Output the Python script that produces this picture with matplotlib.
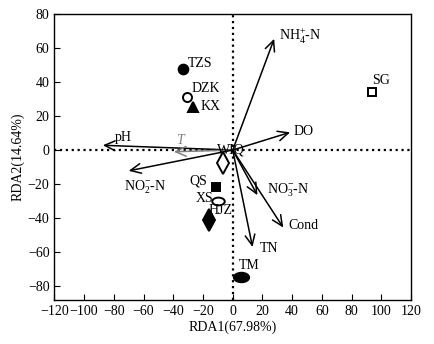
import matplotlib.pyplot as plt
from matplotlib.path import Path
import numpy as np

plt.rcParams['font.family'] = ['Liberation Serif', 'DejaVu Serif']
plt.rcParams['mathtext.fontset'] = 'custom'
plt.rcParams['mathtext.rm'] = 'Liberation Serif'
plt.rcParams['mathtext.it'] = 'Liberation Serif:italic'

# Sample sites (RDA scores)
site_names = ["TZS", "DZK", "KX", "SG", "QS", "XS", "HJZ", "WIQ", "TM"]
site_x = [-33.2, -30.8, -27.0, 94.0, -11.0, -9.9, -16.0, -6.5, 5.4]
site_y = [47.6, 31.2, 25.5, 34.0, -21.6, -29.8, -41.0, -7.5, -74.5]
site_markers = ["o", "o", "^", "s", "s", "ellipse", "d", "d", "ellipse"]
site_filled = [True, False, True, False, True, False, True, False, True]

# Environmental variables (arrow tips)
env_names = ["NH$_4^{+}$-N", "DO", "pH", "$T$", "NO$_2^{-}$-N", "NO$_3^{-}$-N", "Cond", "TN"]
env_x = [27.9, 38.6, -87.4, -39.6, -70.0, 16.6, 34.0, 13.3]
env_y = [65.3, 10.4, 2.8, -1.0, -12.2, -26.5, -45.5, -56.9]

fig, ax = plt.subplots(figsize=(4.35, 3.44), dpi=100)
fig.subplots_adjust(left=0.125, right=0.945, top=0.96, bottom=0.128)

ax.axhline(0, color="black", linestyle=":", lw=1.6, zorder=1)
ax.axvline(0, color="black", linestyle=":", lw=1.6, zorder=1)

# arrows
for name, x, y in zip(env_names, env_x, env_y):
    col = "gray" if name == "$T$" else "black"
    ax.annotate("", xy=(x, y), xytext=(0, 0),
                arrowprops=dict(arrowstyle="->,head_length=0.75,head_width=0.35",
                                color=col, lw=1.1, shrinkA=0, shrinkB=0), zorder=3)

# arrow labels
env_lx = [31, 41, -79, -38, -73, 23, 37.5, 18.4]
env_ly = [66.5, 11, 7.6, 5.9, -22, -23.5, -44, -57.6]
for name, x, y in zip(env_names, env_lx, env_ly):
    col = "gray" if name == "$T$" else "black"
    ax.text(x, y, name, fontsize=10, color=col, va="center", ha="left")

# flattened ellipse marker
circ = Path.unit_circle()
ellipse = Path(circ.vertices * np.array([1.0, 0.62]), circ.codes)

site_sizes = [7, 6.5, 7, 6, 6, 9, 11, 11, 11]
for x, y, m, f, sz in zip(site_x, site_y, site_markers, site_filled, site_sizes):
    mk = ellipse if m == "ellipse" else m
    ax.plot(x, y, marker=mk, markersize=sz, color="black",
            markerfacecolor="black" if f else "white", markeredgewidth=1.4,
            linestyle="none", zorder=4)

site_lx = [-30, -27.4, -21.8, 94, -17, -13.3, -16.5, -10.3, 4.2]
site_ly = [51, 36, 25.3, 40.6, -18.2, -28.4, -35.3, 0, -68]
site_ha = ["left", "left", "left", "left", "right", "right", "left", "left", "left"]
for name, x, y, h in zip(site_names, site_lx, site_ly, site_ha):
    ax.text(x, y, name, fontsize=10, va="center", ha=h, zorder=5)

ax.set_xlim(-120, 120)
ax.set_ylim(-88, 80)
ax.set_xticks(range(-120, 121, 20))
ax.set_yticks(range(-80, 81, 20))
ax.set_xticklabels([str(v).replace("-", "\u2212") for v in range(-120, 121, 20)])
ax.set_yticklabels([str(v).replace("-", "\u2212") for v in range(-80, 81, 20)])
ax.tick_params(direction="in", length=4, labelsize=10, top=False, right=False)
ax.set_xlabel("RDA1(67.98%)", fontsize=10, labelpad=2)
ax.set_ylabel("RDA2(14.64%)", fontsize=10, labelpad=2)
for sp in ax.spines.values():
    sp.set_linewidth(1.0)

plt.savefig("out.png")
plt.close()
